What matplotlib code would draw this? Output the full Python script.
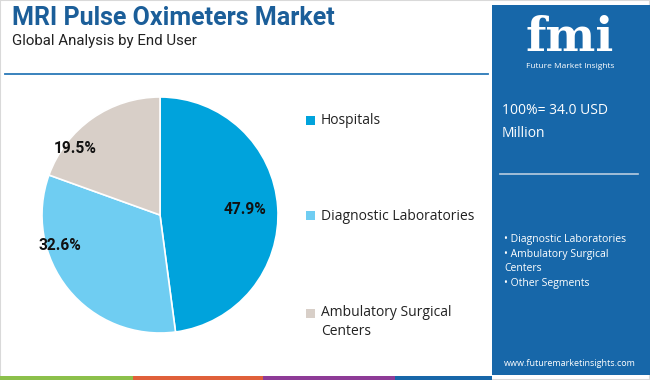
import matplotlib
matplotlib.use("Agg")
import matplotlib.pyplot as plt
from matplotlib.patches import Rectangle
import numpy as np

# ---- data ----
categories = ["Hospitals", "Diagnostic Laboratories", "Ambulatory Surgical\nCenters"]
shares = [47.9, 32.6, 19.5]
pct_labels = ["47.9%", "32.6%", "19.5%"]
colors = ["#00a3dc", "#6fcdf2", "#d8cfc8"]
title = "MRI Pulse Oximeters Market"
subtitle = "Global Analysis by End User"
total_text = "100%= 34.0 USD\nMillion"
bullets = ["• Diagnostic Laboratories", "• Ambulatory Surgical\nCenters", "• Other Segments"]
website = "www.futuremarketinsights.com"

W, H = 650, 380
fig = plt.figure(figsize=(W / 100, H / 100), dpi=100)
fig.patch.set_facecolor("white")

def px(x, y):
    return x / W, 1 - y / H

def ax_rect(x0, y0, x1, y1):
    return [x0 / W, 1 - y1 / H, (x1 - x0) / W, (y1 - y0) / H]

# outer border
fig.patches.append(Rectangle((0, 0), 1, 1, transform=fig.transFigure,
                             fill=False, edgecolor="#d9d9d9", linewidth=1.5))

# title & subtitle
fig.text(*px(12, 18), title, fontsize=18, fontweight="bold", color="#1b5e99",
         family="Roboto", va="center", ha="left")
fig.text(*px(12, 41), subtitle, fontsize=10.8, color="#222222",
         family="Roboto", va="center", ha="left")

# separator line
fig.add_artist(plt.Line2D([5 / W, 488 / W], [1 - 74 / H, 1 - 74 / H],
                          transform=fig.transFigure, color="#2a78b8", linewidth=1.3))

# pie
ax = fig.add_axes(ax_rect(42, 97, 278, 333))
wedges, _ = ax.pie(shares, colors=colors, startangle=90, counterclock=False,
                   wedgeprops=dict(edgecolor="white", linewidth=1.2))
ax.set_aspect("equal")
ax.set_xlim(-1, 1)
ax.set_ylim(-1, 1)
label_polar = [(4, 0.72), (-163, 0.89), (142, 0.91)]
for lab, (ang, r) in zip(pct_labels, label_polar):
    a = np.deg2rad(ang)
    ax.text(r * np.cos(a), r * np.sin(a), lab, ha="center", va="center",
            fontsize=11.2, fontweight="bold", color="#111111", family="Roboto")

# legend
leg_y = [121, 216, 314]
for cat, col, y in zip(categories, colors, leg_y):
    fig.patches.append(Rectangle(px(306, y + 4), 9 / W, 9 / H, transform=fig.transFigure,
                                 facecolor=col, edgecolor="none"))
    if "\n" in cat:
        fig.text(*px(321, y - 9), cat, fontsize=10, color="#222222", family="Open Sans",
                 va="top", ha="left", linespacing=1.4)
    else:
        fig.text(*px(321, y), cat, fontsize=10, color="#222222", family="Open Sans",
                 va="center", ha="left")

# right panel
panel_col = "#1767a9"
fig.patches.append(Rectangle(px(492, 375), 158 / W, 370 / H, transform=fig.transFigure,
                             facecolor=panel_col, edgecolor="none"))
# logo
fig.text(*px(570, 38), "fmi", fontsize=34, fontweight="bold", color="white",
         family="DejaVu Serif", ha="center", va="center")
fig.text(*px(570, 66), "Future Market Insights", fontsize=6, color="white",
         family="Open Sans", ha="center", va="center")
fig.text(*px(502, 122), total_text, fontsize=10, color="white", family="Open Sans",
         ha="left", va="center", linespacing=1.7)
fig.add_artist(plt.Line2D([500 / W, 638 / W], [1 - 174 / H, 1 - 174 / H],
                          transform=fig.transFigure, color="#b8cde0", linewidth=1.2))
fig.text(*px(504, 234), "\n".join(bullets), fontsize=7.5, color="white", family="Open Sans",
         ha="left", va="top", linespacing=1.45)
fig.text(*px(570, 364), website, fontsize=6.5, color="white", family="Open Sans",
         ha="center", va="center")

# bottom strip
strip = [(0, 133, "#8cc04b"), (133, 263, "#e0603a"), (263, 395, "#8e3b97"), (395, 492, "#1767a9")]
for x0, x1, c in strip:
    fig.patches.append(Rectangle(px(x0, 380), (x1 - x0) / W, 4 / H, transform=fig.transFigure,
                                 facecolor=c, edgecolor="none"))

fig.savefig("out.png", dpi=100)
